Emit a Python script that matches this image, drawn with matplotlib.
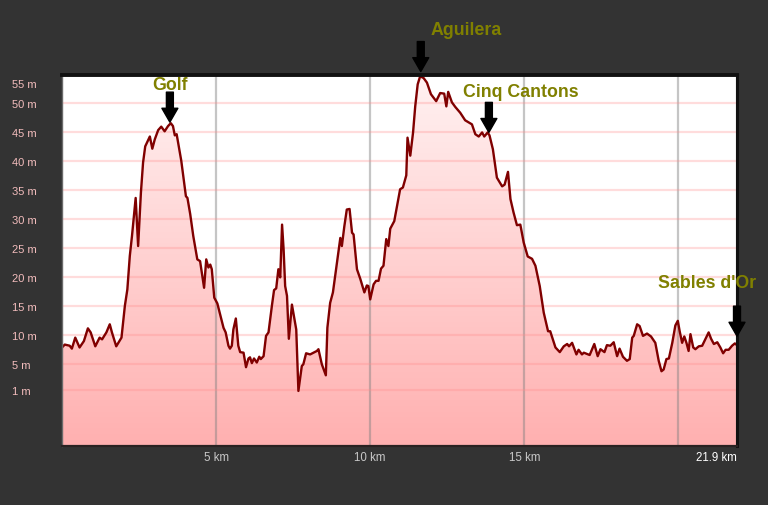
import numpy as np
import matplotlib
matplotlib.use("Agg")
import matplotlib.pyplot as plt
from matplotlib.patches import Polygon
from matplotlib.colors import LinearSegmentedColormap
from matplotlib.transforms import ScaledTranslation

# ---------------- data ----------------
distance_km = [
    0.00, 0.09, 0.25, 0.32, 0.43, 0.57, 0.71, 0.84, 0.93, 1.08, 1.22, 1.30, 1.44, 1.55, 1.62, 1.76,
    1.93, 2.04, 2.12, 2.20, 2.27, 2.39, 2.47, 2.56, 2.63, 2.70, 2.85, 2.93, 3.01, 3.12, 3.22, 3.33,
    3.44, 3.53, 3.60, 3.66, 3.72, 3.87, 4.02, 4.07, 4.16, 4.26, 4.39, 4.48, 4.61, 4.68, 4.75, 4.81,
    4.86, 4.94, 5.04, 5.13, 5.24, 5.31, 5.40, 5.45, 5.51, 5.56, 5.64, 5.72, 5.78, 5.89, 5.97, 6.05,
    6.10, 6.16, 6.23, 6.32, 6.40, 6.45, 6.54, 6.62, 6.70, 6.81, 6.88, 6.95, 7.02, 7.08, 7.14, 7.19,
    7.24, 7.30, 7.36, 7.46, 7.60, 7.67, 7.78, 7.83, 7.92, 8.05, 8.27, 8.32, 8.43, 8.56, 8.61, 8.70,
    8.79, 8.90, 8.97, 9.03, 9.08, 9.16, 9.24, 9.33, 9.41, 9.46, 9.57, 9.68, 9.81, 9.89, 9.94, 10.00,
    10.11, 10.19, 10.27, 10.35, 10.43, 10.52, 10.59, 10.65, 10.78, 10.97, 11.06, 11.17, 11.21, 11.30,
    11.39, 11.46, 11.54, 11.62, 11.73, 11.84, 11.97, 12.14, 12.27, 12.40, 12.47, 12.53, 12.65, 12.76,
    12.92, 13.08, 13.30, 13.41, 13.52, 13.63, 13.70, 13.81, 13.87, 13.98, 14.11, 14.28, 14.36, 14.47,
    14.55, 14.65, 14.76, 14.87, 14.98, 15.11, 15.25, 15.36, 15.50, 15.63, 15.77, 15.84, 16.01, 16.15,
    16.28, 16.39, 16.45, 16.55, 16.69, 16.76, 16.87, 16.93, 17.12, 17.27, 17.38, 17.47, 17.60, 17.68,
    17.79, 17.90, 18.01, 18.09, 18.20, 18.33, 18.42, 18.50, 18.55, 18.66, 18.74, 18.85, 18.98, 19.11,
    19.25, 19.36, 19.45, 19.52, 19.61, 19.69, 19.80, 19.90, 19.98, 20.04, 20.12, 20.19, 20.26, 20.33,
    20.39, 20.48, 20.55, 20.66, 20.77, 20.88, 20.98, 21.06, 21.15, 21.26, 21.36, 21.45, 21.53, 21.63,
    21.74, 21.83, 21.90,
]
elevation_m = [
    7.9, 8.4, 8.2, 7.7, 9.6, 7.9, 9.0, 11.2, 10.5, 8.1, 9.6, 9.3, 10.5, 11.9, 10.5, 8.1,
    9.6, 15.1, 17.9, 23.7, 27.1, 33.7, 25.4, 34.6, 39.8, 42.6, 44.3, 42.2, 43.8, 45.4, 46.0, 45.2,
    46.1, 46.6, 46.1, 44.5, 44.7, 40.1, 34.0, 33.7, 30.9, 27.1, 23.1, 22.8, 18.2, 23.1, 21.7, 22.2,
    21.4, 16.5, 15.5, 13.6, 11.3, 10.5, 8.2, 7.7, 8.2, 11.0, 12.9, 8.2, 7.1, 7.0, 4.5, 6.0,
    6.2, 5.2, 6.0, 5.3, 6.3, 5.9, 6.4, 9.9, 10.5, 15.1, 17.8, 18.1, 21.4, 20.0, 29.1, 24.8,
    18.5, 16.8, 9.4, 15.3, 11.0, 0.4, 4.7, 5.0, 6.9, 6.7, 7.3, 7.6, 5.0, 3.1, 11.3, 15.6,
    17.4, 21.7, 24.5, 26.8, 25.4, 28.8, 31.7, 31.8, 27.7, 27.4, 21.4, 19.7, 17.4, 18.6, 18.5, 16.2,
    18.8, 19.4, 19.4, 21.5, 22.0, 26.6, 25.4, 28.4, 29.7, 35.2, 35.5, 37.6, 44.1, 41.0,
    45.0, 49.5, 53.3, 54.7, 54.4, 53.6, 51.6, 50.4, 51.8, 51.7, 49.5, 52.0, 50.2, 49.4,
    48.4, 47.1, 46.4, 44.7, 44.3, 45.0, 44.3, 45.0, 44.5, 42.1, 37.2, 35.7, 36.0, 38.2,
    33.5, 31.2, 29.0, 29.1, 26.0, 23.6, 23.2, 22.0, 18.5, 13.9, 10.7, 10.7, 7.9, 7.1,
    8.1, 8.5, 8.1, 8.7, 6.7, 7.5, 6.7, 7.0, 6.6, 8.5, 6.4, 7.6, 7.1, 8.3,
    8.2, 8.8, 6.4, 7.7, 6.3, 5.6, 5.9, 9.6, 9.9, 11.9, 11.6, 9.9, 10.3, 9.8,
    8.7, 5.6, 3.8, 4.1, 5.9, 6.0, 8.7, 11.7, 12.5, 10.7, 8.7, 9.8, 8.7, 7.3,
    10.2, 7.9, 7.6, 8.1, 8.2, 9.4, 10.5, 9.4, 8.5, 8.8, 7.9, 6.9, 7.5, 7.5,
    8.2, 8.6, 8.3,
]

y_tick_values = [0.5, 5, 10, 15, 20, 25, 30, 35, 40, 45, 50, 55]
y_tick_labels = ["1 m", "5 m", "10 m", "15 m", "20 m", "25 m", "30 m",
                 "35 m", "40 m", "45 m", "50 m", "55 m"]
x_tick_values = [5, 10, 15, 20, 21.9]
x_tick_labels = ["5 km", "10 km", "15 km", "", "21.9 km"]

landmark_names = ["Golf", "Aguilera", "Cinq Cantons", "Sables d'Or"]
landmark_km = [3.50, 11.64, 13.85, 21.9]

# ---------------- style ----------------
plt.rcParams["font.family"] = ["Liberation Sans", "DejaVu Sans"]
BG = "#333333"
LINE = "#800000"
OLIVE = "#808000"
Y_MIN, Y_MAX = -9.1, 55.0
X_MIN, X_MAX = 0.0, 21.9

# pixel offsets for landmark arrows/labels (gap above line, text dx, text dy above arrow top)
tip_gap_px = [2, 5, 2, 9]
text_dx_px = [0, 45, 32, -30]
text_dy_px = [8, 12, 10.5, 24]
ARROW_LEN = 30

fig = plt.figure(figsize=(7.68, 5.06), dpi=100, facecolor=BG)
ax = fig.add_axes([62 / 768, 1 - 447 / 506, 675 / 768, 371.5 / 506])
ax.set_facecolor("white")
ax.set_xlim(X_MIN, X_MAX)
ax.set_ylim(Y_MIN, Y_MAX)

x = np.asarray(distance_km)
y = np.asarray(elevation_m)

# gradient fill under the profile
verts = np.column_stack([np.r_[x[0], x, x[-1]], np.r_[Y_MIN, y, Y_MIN]])
poly = Polygon(verts, closed=True, facecolor="none", edgecolor="none")
ax.add_patch(poly)
cmap = LinearSegmentedColormap.from_list("pk", ["#ffb0b0", "#fff2f2"])
grad = np.linspace(0, 1, 256).reshape(-1, 1)
im = ax.imshow(grad, extent=[X_MIN, X_MAX, Y_MIN, Y_MAX], origin="lower",
               aspect="auto", cmap=cmap, zorder=1, interpolation="bilinear")
im.set_clip_path(poly)

ax.plot(x, y, color=LINE, lw=1.7, zorder=3, solid_joinstyle="round")

# grid
ax.set_axisbelow("line")
ax.set_yticks(y_tick_values)
ax.set_yticklabels(y_tick_labels)
ax.set_xticks(x_tick_values)
ax.set_xticklabels(x_tick_labels)
ax.yaxis.grid(True, color=(1, 0.55, 0.55), alpha=0.3, lw=1.6)
ax.xaxis.grid(True, color=(0.5, 0.5, 0.5), alpha=0.45, lw=1.6)
ax.tick_params(axis="both", length=0)
ax.tick_params(axis="y", pad=36, labelsize=8, labelcolor="#f2bcbc")
ax.tick_params(axis="x", pad=3.5, labelsize=8.3, labelcolor="#c8c8c8")
for lab in ax.get_yticklabels():
    lab.set_horizontalalignment("left")
ylabs = ax.get_yticklabels()
ylabs[-1].set_transform(ylabs[-1].get_transform() +
                        ScaledTranslation(0, -8.5 / 100, fig.dpi_scale_trans))
last_x = ax.get_xticklabels()[-1]
last_x.set_color("white")
last_x.set_horizontalalignment("right")

for side, col, lw in [("top", "#111111", 2.8), ("right", "#111111", 2.2),
                      ("left", "#6a6a6a", 1.0), ("bottom", "#2a2222", 1.6)]:
    ax.spines[side].set_color(col)
    ax.spines[side].set_linewidth(lw)
    ax.spines[side].set_zorder(5)

# landmarks
land_elev = np.interp(landmark_km, x, y)
for name, km, el, gap, dx, dy in zip(landmark_names, landmark_km, land_elev,
                                     tip_gap_px, text_dx_px, text_dy_px):
    tip_tr = ax.transData + ScaledTranslation(0, gap / 100, fig.dpi_scale_trans)
    ax.annotate("", xy=(km, el), xycoords=tip_tr,
                xytext=(0, ARROW_LEN), textcoords="offset pixels",
                arrowprops=dict(arrowstyle="simple,head_length=1.0,head_width=1.15,tail_width=0.5",
                                mutation_scale=10, color="black", shrinkA=0, shrinkB=0),
                annotation_clip=False, zorder=6)
    ax.annotate(name, xy=(km, el), xycoords=tip_tr,
                xytext=(dx, ARROW_LEN + dy), textcoords="offset pixels",
                ha="center", va="center", fontsize=12.8, fontweight="bold",
                color=OLIVE, annotation_clip=False, zorder=6)

fig.savefig("out.png", dpi=100, facecolor=BG)
